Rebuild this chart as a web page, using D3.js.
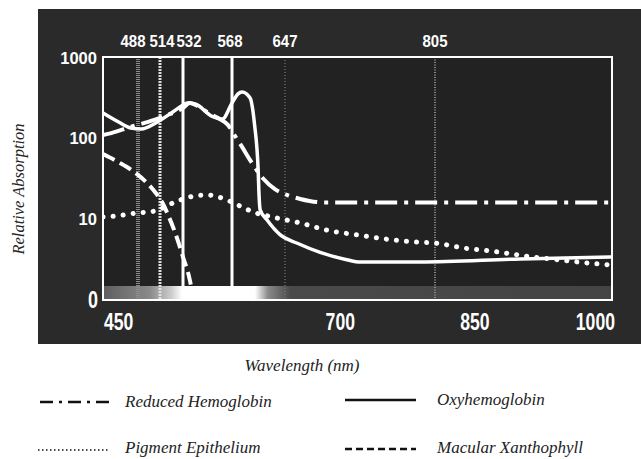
<!DOCTYPE html>
<html><head><meta charset="utf-8">
<script src="https://cdn.jsdelivr.net/npm/d3@7"></script>
<style>body{margin:0;background:#fff;overflow:hidden}</style>
</head><body><svg id="c" width="641" height="459"></svg>
<script>
// ---- data ----
const wavelengthBreaks = [450, 488, 514, 532, 568, 647, 805, 1000];
const markerLines = [488, 514, 532, 568, 647, 805];
const topTickLabels = ["488", "514", "532", "568", "647", "805"];
const bottomTicks = [450, 700, 850, 1000];
const bottomTickLabels = ["450", "700", "850", "1000"];
const yTicks = [1000, 100, 10];
const yTickLabels = ["1000", "100", "10"];
const yZeroLabel = "0";
const seriesNames = ["Reduced Hemoglobin", "Oxyhemoglobin", "Pigment Epithelium", "Macular Xanthophyll"];

const reducedNm  = [450, 459, 480, 499, 520, 532, 537, 544, 552, 559, 565, 572.5, 583, 595, 614, 632, 649, 663, 687, 750, 850, 1000];
const reducedVal = [107, 113, 135, 155, 190, 232, 268, 239, 195, 169, 143, 104, 76, 52, 31, 22.7, 19.2, 17.1, 15.5, 15.5, 15.5, 15.5];

const oxyNm  = [450, 467, 480, 492, 509, 524, 532, 535, 541, 553, 561, 568, 577, 583, 595, 599, 602, 605, 607, 608, 610, 620, 640, 660, 684, 712, 726, 789, 899, 1000];
const oxyVal = [201, 155, 131, 127, 151, 207, 253, 268, 260, 184, 169, 268, 347, 367, 309, 219, 135, 76, 39, 22, 12.5, 9.4, 6.1, 4.8, 3.7, 3.0, 2.8, 2.8, 3.06, 3.24];

const pigmentNm  = [450, 464, 486, 508, 524, 537, 550, 558, 583, 599, 628, 663, 691, 723, 754, 782, 807, 836, 866, 913, 943, 973, 1000];
const pigmentVal = [10.2, 10.5, 11.4, 12.1, 15.2, 18.1, 19.2, 18.1, 13.6, 11.8, 10.2, 8.6, 7.0, 6.1, 5.4, 5.0, 4.8, 4.2, 3.85, 3.24, 2.97, 2.73, 2.57];

const macularNm  = [450, 467, 484, 497.5, 509, 516, 521, 526, 532, 537, 539.5];
const macularVal = [62, 49, 37, 27.8, 20.3, 15.2, 10.2, 6.4, 3.24, 1.68, 1.0];

// ---- layout ----
const svg = d3.select("#c");
const plot = {left: 103, right: 612, top: 57, bottom: 300};
const x = d3.scaleLinear().domain(wavelengthBreaks).range([103, 138, 160, 183, 232, 285, 435, 612]);
const y = d3.scaleLog().domain([1, 1000]).range([298, 57]);

const defs = svg.append("defs");
defs.append("clipPath").attr("id", "clip").append("rect")
  .attr("x", plot.left).attr("y", plot.top).attr("width", plot.right - plot.left).attr("height", plot.bottom - plot.top);
const grad = defs.append("linearGradient").attr("id", "spec")
  .attr("gradientUnits", "userSpaceOnUse").attr("x1", plot.left).attr("x2", plot.right).attr("y1", 0).attr("y2", 0);
[[103, "#5e5e5e"], [150, "#8a8a8a"], [172, "#cfcfcf"], [182, "#ffffff"], [255, "#ffffff"], [268, "#8a8a8a"], [290, "#4a4a4a"], [612, "#444444"]]
  .forEach(([px, c]) => grad.append("stop").attr("offset", (px - plot.left) / (plot.right - plot.left)).attr("stop-color", c));

// dark panel
svg.append("rect").attr("x", 38).attr("y", 9).attr("width", 603).attr("height", 335).attr("fill", "#2a2a2a");
svg.append("rect").attr("x", plot.left).attr("y", plot.top).attr("width", plot.right - plot.left).attr("height", plot.bottom - plot.top).attr("fill", "#222222");

// spectrum band
svg.append("rect").attr("x", plot.left).attr("y", 286).attr("width", plot.right - plot.left).attr("height", plot.bottom - 286).attr("fill", "url(#spec)");

// marker lines
const markerStyle = {
  488: {c: "#8c8c8c", w: 4, d: "1,1"},
  514: {c: "#e0e0e0", w: 3, d: "2,1"},
  532: {c: "#ffffff", w: 3, d: null},
  568: {c: "#ffffff", w: 3, d: null},
  647: {c: "#7a7a7a", w: 1.2, d: "1,2"},
  805: {c: "#8a8a8a", w: 2, d: "1,1.5"}
};
svg.append("g").selectAll("line").data(markerLines).join("line")
  .attr("x1", d => x(d)).attr("x2", d => x(d))
  .attr("y1", plot.top).attr("y2", d => (d === 532 || d === 568) ? 287 : plot.bottom)
  .attr("stroke", d => markerStyle[d].c).attr("stroke-width", d => markerStyle[d].w)
  .attr("stroke-dasharray", d => markerStyle[d].d);

// curves
const line = d3.line().x(d => x(d[0])).y(d => y(d[1])).curve(d3.curveMonotoneX);
const zip = (a, b) => a.map((v, i) => [v, b[i]]);
const curves = svg.append("g").attr("clip-path", "url(#clip)").attr("fill", "none").attr("stroke", "#fff");
curves.append("path").datum(zip(pigmentNm, pigmentVal)).attr("d", line)
  .attr("stroke-width", 5).attr("stroke-linecap", "round").attr("stroke-dasharray", "0.1,10");
curves.append("path").datum(zip(macularNm, macularVal)).attr("d", line)
  .attr("stroke-width", 4).attr("stroke-dasharray", "13,6");
curves.append("path").datum(zip(reducedNm, reducedVal)).attr("d", line)
  .attr("stroke-width", 4).attr("stroke-dasharray", "22,7,4,7");
curves.append("path").datum(zip(oxyNm, oxyVal)).attr("d", line)
  .attr("stroke-width", 3.5);

// frame
svg.append("rect").attr("x", plot.left).attr("y", plot.top).attr("width", plot.right - plot.left).attr("height", plot.bottom - plot.top)
  .attr("fill", "none").attr("stroke", "#fff").attr("stroke-width", 2);

// labels
const sans = "'Liberation Sans', Arial, sans-serif";
const topDx = {488: -5, 514: 2, 532: 6, 568: -2, 647: 0, 805: 0};
svg.append("g").selectAll("text").data(markerLines).join("text")
  .attr("x", d => x(d) + topDx[d]).attr("y", 47).attr("text-anchor", "middle")
  .attr("font-family", sans).attr("font-weight", "bold").attr("font-size", 17).attr("fill", "#fff")
  .attr("textLength", 25).attr("lengthAdjust", "spacingAndGlyphs")
  .text((d, i) => topTickLabels[i]);

svg.append("g").selectAll("text").data(yTicks).join("text")
  .attr("x", 97).attr("y", d => y(d) + 7).attr("text-anchor", "end")
  .attr("font-family", sans).attr("font-weight", "bold").attr("font-size", 17).attr("fill", "#fff")
  .attr("textLength", (d, i) => yTickLabels[i].length * 9.2).attr("lengthAdjust", "spacingAndGlyphs")
  .text((d, i) => yTickLabels[i]);
svg.append("text").attr("x", 98).attr("y", 308).attr("text-anchor", "end")
  .attr("font-family", sans).attr("font-weight", "bold").attr("font-size", 23).attr("fill", "#fff")
  .attr("textLength", 10).attr("lengthAdjust", "spacingAndGlyphs").text(yZeroLabel);

const botAnchor = {450: "start", 700: "middle", 850: "middle", 1000: "end"};
const botDx = {450: 1, 700: 5, 850: -1, 1000: 3};
svg.append("g").selectAll("text").data(bottomTicks).join("text")
  .attr("x", d => x(d) + botDx[d]).attr("y", 330).attr("text-anchor", d => botAnchor[d])
  .attr("font-family", sans).attr("font-weight", "bold").attr("font-size", 23).attr("fill", "#fff")
  .attr("textLength", (d, i) => bottomTickLabels[i].length * 9.8).attr("lengthAdjust", "spacingAndGlyphs")
  .text((d, i) => bottomTickLabels[i]);

// axis titles
const serif = "'Liberation Serif', 'DejaVu Serif', serif";
svg.append("text").attr("transform", "translate(24,189) rotate(-90)").attr("text-anchor", "middle")
  .attr("font-family", serif).attr("font-style", "italic").attr("font-size", 16.5).attr("fill", "#222")
  .text("Relative Absorption");
svg.append("text").attr("x", 302).attr("y", 371).attr("text-anchor", "middle")
  .attr("font-family", serif).attr("font-style", "italic").attr("font-size", 17).attr("fill", "#222")
  .text("Wavelength (nm)");

// legend
const legendItems = [
  {name: seriesNames[0], lx: 40, tx: 125, ly: 402, ty: 407, dash: "13,6,3,6", w: 2.5},
  {name: seriesNames[1], lx: 345, tx: 437, ly: 400, ty: 405, dash: null, w: 2.5},
  {name: seriesNames[2], lx: 38, tx: 125, ly: 450, ty: 453, dash: "1.5,2.5", w: 1.5},
  {name: seriesNames[3], lx: 345, tx: 437, ly: 449, ty: 453, dash: "7,4", w: 2.5}
];
const lg = svg.append("g");
legendItems.forEach(it => {
  lg.append("line").attr("x1", it.lx).attr("x2", it.lx + 71).attr("y1", it.ly).attr("y2", it.ly)
    .attr("stroke", "#111").attr("stroke-width", it.w).attr("stroke-dasharray", it.dash);
  lg.append("text").attr("x", it.tx).attr("y", it.ty)
    .attr("font-family", serif).attr("font-style", "italic").attr("font-size", 17).attr("fill", "#222")
    .text(it.name);
});
</script></body></html>
